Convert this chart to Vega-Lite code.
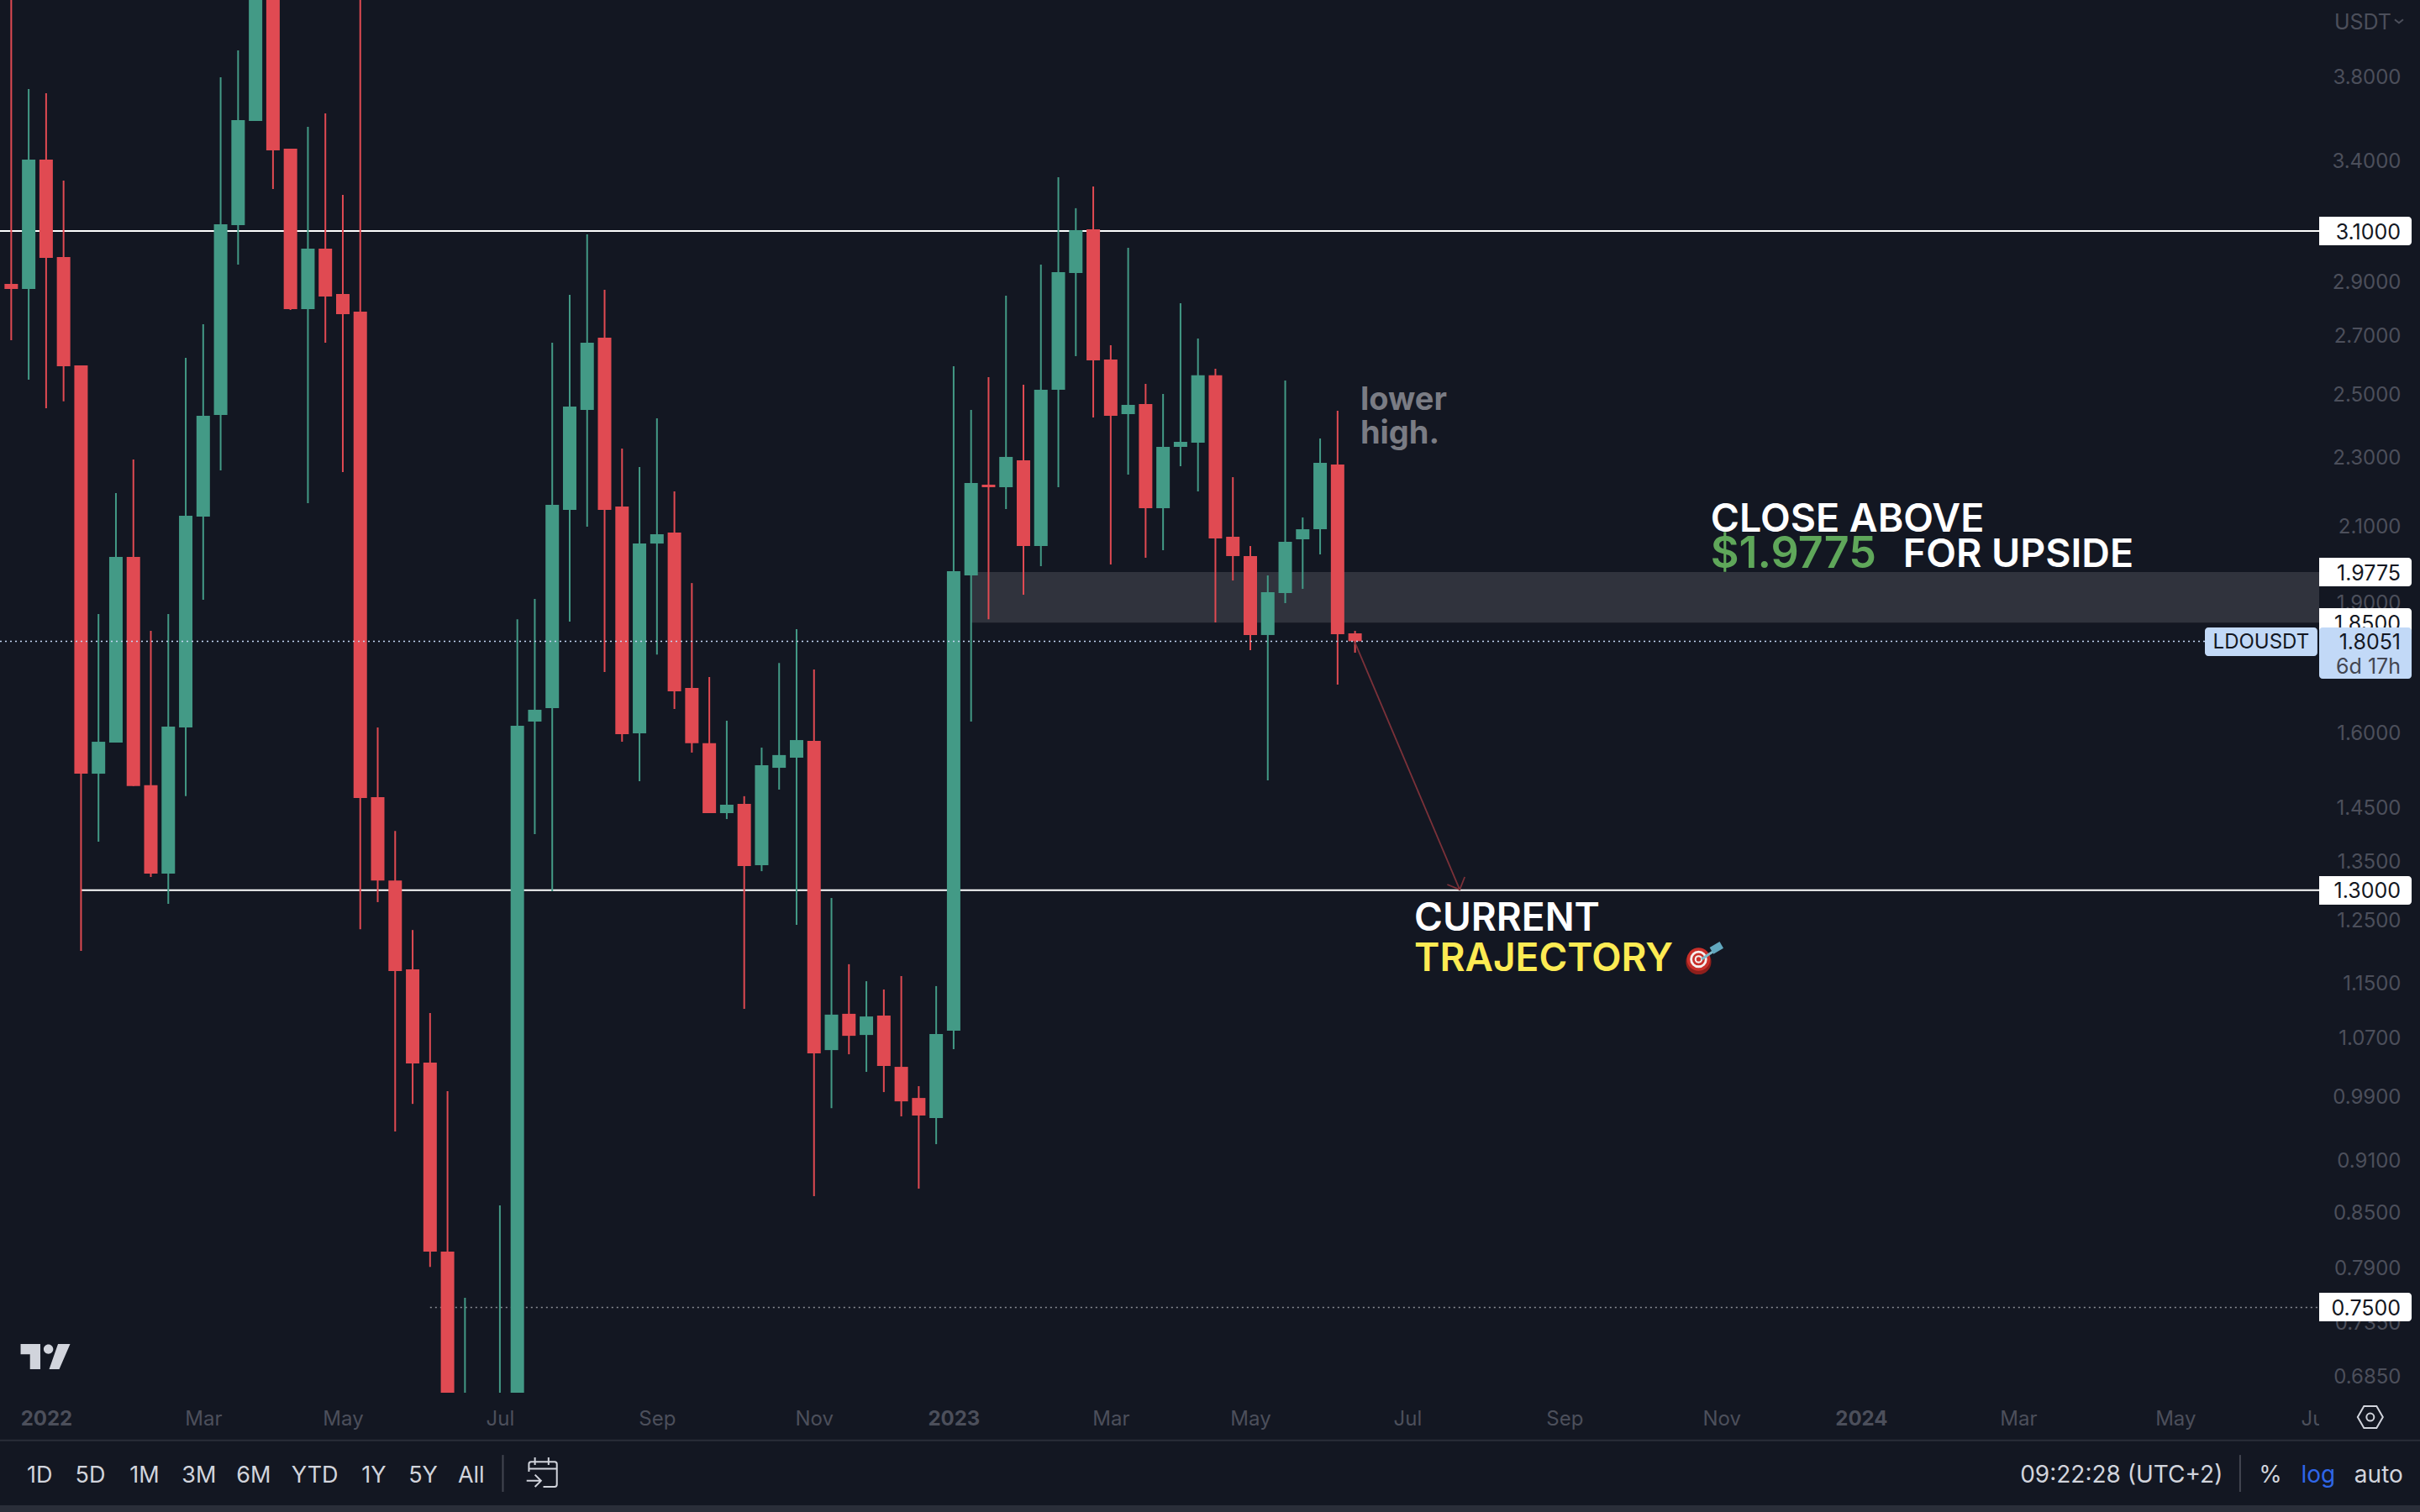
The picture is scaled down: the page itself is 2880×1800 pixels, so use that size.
{"$schema":"https://vega.github.io/schema/vega-lite/v6.json","width":2760,"height":1658,"autosize":{"type":"none"},"padding":{"left":0,"top":0,"right":120,"bottom":142},"background":"#131722","config":{"view":{"stroke":null},"font":"Inter","text":{"font":"Inter"}},
"encoding":{"x":{"field":"date","type":"temporal","title":null,"scale":{"type":"utc","padding":0,"domain":[{"year":2021,"month":12,"date":15,"hours":12,"utc":true},{"year":2024,"month":7,"date":2,"hours":17,"utc":true}]},"axis":{"orient":"bottom","domain":false,"ticks":false,"grid":false,"labelFont":"Inter","labelFontSize":24,"labelColor":"#4c4f5b","labelPadding":19,"labelOverlap":false,"labelBound":false,"labelFlush":false,"labelFontWeight":{"condition":{"test":"utcmonth(datum.value)==0","value":700},"value":400},"labelExpr":"utcmonth(datum.value)==0 ? utcFormat(datum.value,'%Y') : utcFormat(datum.value,'%b')","values":[{"year":2022,"month":1,"date":3,"utc":true},{"year":2022,"month":3,"date":7,"utc":true},{"year":2022,"month":5,"date":2,"utc":true},{"year":2022,"month":7,"date":4,"utc":true},{"year":2022,"month":9,"date":5,"utc":true},{"year":2022,"month":11,"date":7,"utc":true},{"year":2023,"month":1,"date":2,"utc":true},{"year":2023,"month":3,"date":6,"utc":true},{"year":2023,"month":5,"date":1,"utc":true},{"year":2023,"month":7,"date":3,"utc":true},{"year":2023,"month":9,"date":4,"utc":true},{"year":2023,"month":11,"date":6,"utc":true},{"year":2024,"month":1,"date":1,"utc":true},{"year":2024,"month":3,"date":4,"utc":true},{"year":2024,"month":5,"date":6,"utc":true},{"year":2024,"month":7,"date":1,"utc":true}]}},
"y":{"field":"price","type":"quantitative","title":null,"scale":{"type":"log","domain":[0.6703,4.2036],"nice":false,"zero":false},"axis":{"orient":"right","domain":false,"ticks":false,"grid":false,"labelFont":"Inter","labelFontSize":24,"labelColor":"#4c4f5b","labelAlign":"right","labelPadding":97,"labelOffset":1,"labelOverlap":false,"labelBound":false,"labelFlush":false,"format":".4f","values":[3.8,3.4,2.9,2.7,2.5,2.3,2.1,1.9,1.6,1.45,1.35,1.25,1.15,1.07,0.99,0.91,0.85,0.79,0.735,0.685]}}},
"layer":[
{"data":{"values":[{"date":"2023-01-09","date2":"2024-07-02T17:00:00Z","price":1.9775,"price2":1.85}]},"mark":{"type":"rect","color":"#30333d"},"encoding":{"x2":{"field":"date2"},"y2":{"field":"price2"}}},
{"data":{"values":[{"date":"2022-06-06","date2":"2024-07-02T17:00:00Z","price":0.75}]},"mark":{"type":"rule","color":"#8a8d95","strokeWidth":1.5,"strokeDash":[2,4]},"encoding":{"x2":{"field":"date2"}}},
{"data":{"values":[{"date":"2021-12-15T12:00:00Z","date2":"2024-07-02T17:00:00Z","price":3.1},{"date":"2022-01-17","date2":"2024-07-02T17:00:00Z","price":1.3}]},"mark":{"type":"rule","color":"#ffffff","strokeWidth":2},"encoding":{"x2":{"field":"date2"}}},
{"name":"candles","data":{"name":"candles","values":[
{"date":"2021-12-20","open":2.8913,"high":4.5,"low":2.6843,"close":2.872},
{"date":"2021-12-27","open":2.872,"high":3.7383,"low":2.5483,"close":3.406},
{"date":"2022-01-03","open":3.406,"high":3.7174,"low":2.4543,"close":2.9923},
{"date":"2022-01-10","open":2.9956,"high":3.3129,"low":2.4764,"close":2.5937},
{"date":"2022-01-17","open":2.5967,"high":2.5967,"low":1.2002,"close":1.5159},
{"date":"2022-01-24","open":1.5159,"high":1.871,"low":1.386,"close":1.5811},
{"date":"2022-01-31","open":1.5794,"high":2.1947,"low":1.5794,"close":2.0174},
{"date":"2022-02-07","open":2.0174,"high":2.2941,"low":1.4913,"close":1.4913},
{"date":"2022-02-14","open":1.4929,"high":1.83,"low":1.323,"close":1.3288},
{"date":"2022-02-21","open":1.3288,"high":1.871,"low":1.277,"close":1.6129},
{"date":"2022-02-28","open":1.6111,"high":2.6228,"low":1.4716,"close":2.1298},
{"date":"2022-03-07","open":2.1274,"high":2.7418,"low":1.9065,"close":2.4298},
{"date":"2022-03-14","open":2.4325,"high":3.7964,"low":2.261,"close":3.1275},
{"date":"2022-03-21","open":3.1242,"high":3.9333,"low":2.9657,"close":3.5879},
{"date":"2022-03-28","open":3.5839,"high":4.6,"low":3.5839,"close":4.4},
{"date":"2022-04-04","open":4.5,"high":4.7,"low":3.2767,"close":3.4481},
{"date":"2022-04-11","open":3.4554,"high":3.4554,"low":2.7936,"close":2.7968},
{"date":"2022-04-18","open":2.7968,"high":3.5564,"low":2.1655,"close":3.0286},
{"date":"2022-04-25","open":3.0286,"high":3.62,"low":2.6753,"close":2.8437},
{"date":"2022-05-02","open":2.853,"high":3.2512,"low":2.256,"close":2.7781},
{"date":"2022-05-09","open":2.7874,"high":4.6,"low":1.235,"close":1.468},
{"date":"2022-05-16","open":1.4696,"high":1.6111,"low":1.2798,"close":1.3168},
{"date":"2022-05-23","open":1.3168,"high":1.4057,"low":0.9459,"close":1.1687},
{"date":"2022-05-30","open":1.1713,"high":1.2336,"low":0.9809,"close":1.0345},
{"date":"2022-06-06","open":1.0357,"high":1.1058,"low":0.7912,"close":0.8073},
{"date":"2022-06-13","open":0.8073,"high":0.9975,"low":0.58,"close":0.62},
{"date":"2022-06-20","open":0.6,"high":0.7596,"low":0.55,"close":0.63},
{"date":"2022-06-27","open":0.6,"high":0.65,"low":0.56,"close":0.62},
{"date":"2022-07-04","open":0.62,"high":0.858,"low":0.58,"close":0.66},
{"date":"2022-07-11","open":0.65,"high":1.8583,"low":0.6,"close":1.6147},
{"date":"2022-07-18","open":1.6237,"high":1.9086,"low":1.4,"close":1.6492},
{"date":"2022-07-25","open":1.6527,"high":2.6753,"low":1.2983,"close":2.1606},
{"date":"2022-08-01","open":2.1462,"high":2.8499,"low":1.8524,"close":2.4597},
{"date":"2022-08-08","open":2.4487,"high":3.0867,"low":2.0995,"close":2.6753},
{"date":"2022-08-15","open":2.6934,"high":2.8688,"low":1.7333,"close":2.1462},
{"date":"2022-08-22","open":2.1558,"high":2.327,"low":1.5811,"close":1.5968},
{"date":"2022-08-29","open":1.5986,"high":2.2712,"low":1.5009,"close":2.0532},
{"date":"2022-09-05","open":2.0532,"high":2.4217,"low":1.7739,"close":2.0785},
{"date":"2022-09-12","open":2.0831,"high":2.1995,"low":1.651,"close":1.6896},
{"date":"2022-09-19","open":1.6972,"high":1.949,"low":1.5587,"close":1.5779},
{"date":"2022-09-26","open":1.5779,"high":1.7219,"low":1.4391,"close":1.4391},
{"date":"2022-10-03","open":1.4391,"high":1.6255,"low":1.4279,"close":1.4552},
{"date":"2022-10-10","open":1.4568,"high":1.4716,"low":1.1118,"close":1.3421},
{"date":"2022-10-17","open":1.3436,"high":1.5689,"low":1.3331,"close":1.5328},
{"date":"2022-10-24","open":1.5277,"high":1.7541,"low":1.4844,"close":1.5536},
{"date":"2022-10-31","open":1.5482,"high":1.834,"low":1.242,"close":1.5846},
{"date":"2022-11-07","open":1.5829,"high":1.7393,"low":0.8685,"close":1.0484},
{"date":"2022-11-14","open":1.053,"high":1.2868,"low":0.9754,"close":1.1034},
{"date":"2022-11-21","open":1.1046,"high":1.1792,"low":1.0472,"close":1.073},
{"date":"2022-11-28","open":1.0742,"high":1.1531,"low":1.0232,"close":1.1007},
{"date":"2022-12-05","open":1.1019,"high":1.1406,"low":0.9963,"close":1.0311},
{"date":"2022-12-12","open":1.03,"high":1.1609,"low":0.9649,"close":0.9842},
{"date":"2022-12-19","open":0.9886,"high":1.0041,"low":0.8772,"close":0.966},
{"date":"2022-12-26","open":0.9627,"high":1.1457,"low":0.9302,"close":1.0754},
{"date":"2023-01-02","open":1.0802,"high":2.5937,"low":1.0542,"close":1.9796},
{"date":"2023-01-09","open":1.9687,"high":2.4487,"low":1.6237,"close":2.2238},
{"date":"2023-01-16","open":2.2189,"high":2.5567,"low":1.8583,"close":2.2115},
{"date":"2023-01-23","open":2.2115,"high":2.8467,"low":2.1487,"close":2.3016},
{"date":"2023-01-30","open":2.2912,"high":2.5314,"low":1.9192,"close":2.0465},
{"date":"2023-02-06","open":2.0465,"high":2.9657,"low":1.9929,"close":2.5146},
{"date":"2023-02-13","open":2.5146,"high":3.3277,"low":2.2115,"close":2.9362},
{"date":"2023-02-20","open":2.933,"high":3.1946,"low":2.6286,"close":3.1037},
{"date":"2023-02-27","open":3.1071,"high":3.2874,"low":2.4244,"close":2.614},
{"date":"2023-03-06","open":2.6169,"high":2.6667,"low":1.9973,"close":2.4298},
{"date":"2023-03-13","open":2.4352,"high":3.032,"low":2.2485,"close":2.465},
{"date":"2023-03-20","open":2.4678,"high":2.5342,"low":2.0151,"close":2.1511},
{"date":"2023-03-27","open":2.1511,"high":2.5008,"low":2.0352,"close":2.3322},
{"date":"2023-04-03","open":2.3322,"high":2.8185,"low":2.2736,"close":2.3478},
{"date":"2023-04-10","open":2.3452,"high":2.6904,"low":2.1993,"close":2.5628},
{"date":"2023-04-17","open":2.5628,"high":2.5853,"low":1.8504,"close":2.067},
{"date":"2023-04-24","open":2.0716,"high":2.241,"low":1.9556,"close":2.0195},
{"date":"2023-05-01","open":2.0195,"high":2.0465,"low":1.784,"close":1.82},
{"date":"2023-05-08","open":1.82,"high":1.9687,"low":1.5026,"close":1.9256},
{"date":"2023-05-15","open":1.9234,"high":2.5454,"low":1.8981,"close":2.0579},
{"date":"2023-05-22","open":2.0647,"high":2.125,"low":1.9341,"close":2.0923},
{"date":"2023-05-29","open":2.0923,"high":2.3582,"low":2.024,"close":2.2837},
{"date":"2023-06-05","open":2.2786,"high":2.446,"low":1.7047,"close":1.8219},
{"date":"2023-06-12","open":1.824,"high":1.83,"low":1.778,"close":1.8051}
]},"mark":{"type":"rule","strokeWidth":2,"clip":true},"encoding":{"y":{"field":"low","type":"quantitative"},"y2":{"field":"high"},"color":{"condition":{"test":"datum.close>=datum.open","value":"#439a86"},"value":"#e04a52"}}},
{"data":{"name":"candles"},"mark":{"type":"bar","size":16,"orient":"vertical","clip":true},"encoding":{"y":{"field":"open","type":"quantitative"},"y2":{"field":"close"},"color":{"condition":{"test":"datum.close>=datum.open","value":"#439a86"},"value":"#e04a52"}}},
{"data":{"values":[{"date":"2021-12-15T12:00:00Z","date2":"2024-05-17T21:00:00Z","price":1.8051}]},"mark":{"type":"rule","color":"#c5d8f5","strokeWidth":1.5,"strokeDash":[2,4]},"encoding":{"x2":{"field":"date2"}}},
{"data":{"values":[{"part":"shaft","date":"2023-06-12","price":1.8018},{"part":"shaft","date":"2023-07-24","price":1.3011},{"part":"head","date":"2023-07-19","price":1.3098},{"part":"head","date":"2023-07-24","price":1.3011},{"part":"head","date":"2023-07-26","price":1.323}]},"mark":{"type":"line","color":"#7b3139","strokeWidth":1.8},"encoding":{"detail":{"field":"part"}}},
{"data":{"values":[{"date":"2023-06-14T19:00:00Z","price":2.4487,"label":"lower"},{"date":"2023-06-14T19:00:00Z","price":2.3426,"label":"high."}]},"mark":{"type":"text","align":"left","baseline":"alphabetic","dx":-2,"font":"Inter","fontSize":38,"fontWeight":700,"color":"#7a7c84"},"encoding":{"text":{"field":"label"}}},
{"data":{"values":[{"date":"2023-11-02T07:00:00Z","price":2.0861,"label":"CLOSE ABOVE"},{"date":"2024-01-18T12:00:00Z","price":1.9907,"label":"FOR UPSIDE"}]},"mark":{"type":"text","align":"left","baseline":"alphabetic","dx":-2,"font":"Inter","fontSize":46.5,"fontWeight":600,"color":"#ffffff"},"encoding":{"text":{"field":"label"}}},
{"data":{"values":[{"date":"2023-07-06T10:00:00Z","price":1.2324,"label":"CURRENT"}]},"mark":{"type":"text","align":"left","baseline":"alphabetic","dx":-2,"font":"Inter","fontSize":46,"fontWeight":600,"color":"#ffffff"},"encoding":{"text":{"field":"label"}}},
{"data":{"values":[{"date":"2023-11-02T07:00:00Z","price":1.9907,"label":"$1.9775"}]},"mark":{"type":"text","align":"left","baseline":"alphabetic","dx":-2,"dy":1,"font":"Inter","fontSize":52,"fontWeight":600,"color":"#5fa75a"},"encoding":{"text":{"field":"label"}}},
{"data":{"values":[{"date":"2023-07-06T10:00:00Z","price":1.1687,"label":"TRAJECTORY"}]},"mark":{"type":"text","align":"left","baseline":"alphabetic","dx":-2,"font":"Inter","fontSize":46,"fontWeight":600,"color":"#fdeb53"},"encoding":{"text":{"field":"label"}}},
{"data":{"values":[{"date":"2023-10-27T19:00:00Z","price":1.183}]},"mark":{"type":"point","shape":"circle","filled":true,"size":908,"color":"#8e1f1c","opacity":1}},
{"data":{"values":[{"date":"2023-10-27T19:00:00Z","price":1.187}]},"mark":{"type":"point","shape":"circle","filled":true,"size":760,"color":"#c9302a","opacity":1}},
{"data":{"values":[{"date":"2023-10-27T19:00:00Z","price":1.187}]},"mark":{"type":"point","shape":"circle","filled":true,"size":420,"color":"#f5f0ee","opacity":1}},
{"data":{"values":[{"date":"2023-10-27T19:00:00Z","price":1.187}]},"mark":{"type":"point","shape":"circle","filled":true,"size":220,"color":"#c9302a","opacity":1}},
{"data":{"values":[{"date":"2023-10-27T19:00:00Z","price":1.187}]},"mark":{"type":"point","shape":"circle","filled":true,"size":90,"color":"#f5f0ee","opacity":1}},
{"data":{"values":[{"date":"2023-10-27T19:00:00Z","price":1.187}]},"mark":{"type":"point","shape":"circle","filled":true,"size":28,"color":"#c9302a","opacity":1}},
{"data":{"values":[{"date":"2023-10-29","price":1.187},{"date":"2023-11-03","price":1.2002}]},"mark":{"type":"line","color":"#7db9c9","strokeWidth":3}},
{"data":{"values":[{"date":"2023-11-02","price":1.2002},{"date":"2023-11-06","price":1.2095}]},"mark":{"type":"line","color":"#62a8bf","strokeWidth":9}},
{"data":{"values":[{"date":"2024-07-02T17:00:00Z","date2":"2024-08-20","price":0.6703,"price2":0.6306}]},"mark":{"type":"rect","color":"#131722"},"encoding":{"x2":{"field":"date2"},"y2":{"field":"price2"}}},
{"data":{"values":[{"date":"2024-07-02T17:00:00Z","date2":"2024-08-08T19:00:00Z","price":3.159,"price2":3.0423},{"date":"2024-07-02T17:00:00Z","date2":"2024-08-08T19:00:00Z","price":2.0151,"price2":1.9406},{"date":"2024-07-02T17:00:00Z","date2":"2024-08-08T19:00:00Z","price":1.8855,"price2":1.8158},{"date":"2024-07-02T17:00:00Z","date2":"2024-08-08T19:00:00Z","price":1.3244,"price2":1.2755},{"date":"2024-07-02T17:00:00Z","date2":"2024-08-08T19:00:00Z","price":0.7647,"price2":0.7365}]},"mark":{"type":"rect","color":"#ffffff","cornerRadiusTopRight":4,"cornerRadiusBottomRight":4},"encoding":{"x2":{"field":"date2"},"y2":{"field":"price2"}}},
{"data":{"values":[{"date":"2024-08-04T10:00:00Z","price":3.1,"label":"3.1000"},{"date":"2024-08-04T10:00:00Z","price":1.9775,"label":"1.9775"},{"date":"2024-08-04T10:00:00Z","price":1.85,"label":"1.8500"},{"date":"2024-08-04T10:00:00Z","price":1.3,"label":"1.3000"},{"date":"2024-08-04T10:00:00Z","price":0.75,"label":"0.7500"}]},"mark":{"type":"text","align":"right","baseline":"middle","dy":1.5,"font":"Inter","fontSize":25,"color":"#131722"},"encoding":{"text":{"field":"label"}}},
{"data":{"values":[{"date":"2024-07-02T17:00:00Z","date2":"2024-08-08T19:00:00Z","price":1.8381,"price2":1.718},{"date":"2024-05-17T21:00:00Z","date2":"2024-07-02T00:00:00Z","price":1.8381,"price2":1.7702}]},"mark":{"type":"rect","color":"#c2d9f7","cornerRadius":4},"encoding":{"x2":{"field":"date2"},"y2":{"field":"price2"}}},
{"data":{"values":[{"date":"2024-08-04T10:00:00Z","price":1.8051,"label":"1.8051"}]},"mark":{"type":"text","align":"right","baseline":"middle","dy":1.5,"font":"Inter","fontSize":25,"color":"#131722"},"encoding":{"text":{"field":"label"}}},
{"data":{"values":[{"date":"2024-08-04T10:00:00Z","price":1.7487,"label":"6d 17h"}]},"mark":{"type":"text","align":"right","baseline":"middle","dy":1.5,"font":"Inter","fontSize":25,"color":"#434651"},"encoding":{"text":{"field":"label"}}},
{"data":{"values":[{"date":"2024-06-09T10:00:00Z","price":1.8051,"label":"LDOUSDT"}]},"mark":{"type":"text","align":"center","baseline":"middle","dy":1.5,"font":"Inter","fontSize":24,"color":"#131722"},"encoding":{"text":{"field":"label"}}},
{"data":{"values":[{"date":"2024-07-20T05:00:00Z","price":4.0798,"label":"USDT"}]},"mark":{"type":"text","align":"center","baseline":"middle","font":"Inter","fontSize":25,"color":"#4c4f5b"},"encoding":{"text":{"field":"label"}}},
{"data":{"values":[{"date":"2024-08-03T17:00:00Z","price":4.088}]},"mark":{"type":"point","shape":"M-1,-0.4L0,0.4L1,-0.4","size":100,"filled":false,"color":"#4c4f5b","strokeWidth":2,"opacity":1}},
{"data":{"values":[{"date":"2022-01-02T17:00:00Z","price":0.7029}]},"mark":{"type":"point","shape":"M-0.983,-0.5L-0.2,-0.5L-0.2,0.5L-0.61,0.5L-0.61,-0.093L-0.983,-0.093Z M-0.07,-0.3A0.19,0.19,0,1,0,0.31,-0.3A0.19,0.19,0,1,0,-0.07,-0.3Z M0.5,-0.5L0.983,-0.5L0.55,0.5L0.15,0.5Z","size":3600,"filled":true,"color":"#d1d4dc","opacity":1}},
{"data":{"values":[{"date":"2024-07-23T05:00:00Z","price":0.6491}]},"mark":{"type":"point","shape":"M-1,0L-0.5,-0.87L0.5,-0.87L1,0L0.5,0.87L-0.5,0.87Z M-0.3,0A0.3,0.3,0,1,0,0.3,0A0.3,0.3,0,1,0,-0.3,0Z","size":900,"filled":false,"color":"#d1d4dc","strokeWidth":2,"opacity":1}},
{"data":{"values":[{"date":"2022-07-20T19:00:00Z","price":0.604}]},"mark":{"type":"point","shape":"M-0.85,0V-0.5Q-0.85,-0.65,-0.7,-0.65H0.85Q1,-0.65,1,-0.5V0.85Q1,1,0.85,1H0.1 M-0.85,-0.2H1 M-0.45,-0.95V-0.45 M0.45,-0.95V-0.45 M-1,0.6H-0.1 M-0.45,0.2L-0.05,0.6L-0.45,1","size":1296,"filled":false,"color":"#d1d4dc","strokeWidth":2,"opacity":1}},
{"data":{"values":[{"date":"2021-12-01","date2":"2024-08-20","price":0.6295}]},"mark":{"type":"rule","color":"#2a2e39","strokeWidth":2},"encoding":{"x2":{"field":"date2"}}},
{"data":{"values":[{"date":"2021-12-01","date2":"2024-08-20","price":0.5778,"price2":0.5664}]},"mark":{"type":"rect","color":"#2a2e39"},"encoding":{"x2":{"field":"date2"},"y2":{"field":"price2"}}},
{"data":{"values":[{"date":"2022-07-05T05:00:00Z","price":0.6175,"price2":0.5882},{"date":"2024-06-01","price":0.6175,"price2":0.5882}]},"mark":{"type":"rule","color":"#434651","strokeWidth":2},"encoding":{"y2":{"field":"price2"}}},
{"data":{"values":[{"date":"2021-12-31T10:00:00Z","price":0.6007,"label":"1D"},{"date":"2022-01-20T17:00:00Z","price":0.6007,"label":"5D"},{"date":"2022-02-11T10:00:00Z","price":0.6007,"label":"1M"},{"date":"2022-03-05T07:00:00Z","price":0.6007,"label":"3M"},{"date":"2022-03-27T05:00:00Z","price":0.6007,"label":"6M"},{"date":"2022-04-20T19:00:00Z","price":0.6007,"label":"YTD"},{"date":"2022-05-14T10:00:00Z","price":0.6007,"label":"1Y"},{"date":"2022-06-03T05:00:00Z","price":0.6007,"label":"5Y"},{"date":"2022-06-22T12:00:00Z","price":0.6007,"label":"All"}]},"mark":{"type":"text","align":"center","baseline":"middle","font":"Inter","fontSize":27,"color":"#d1d4dc"},"encoding":{"text":{"field":"label"}}},
{"data":{"values":[{"date":"2024-04-14T10:00:00Z","price":0.6007,"label":"09:22:28 (UTC+2)"},{"date":"2024-06-13T03:00:00Z","price":0.6007,"label":"%"},{"date":"2024-07-26T14:00:00Z","price":0.6007,"label":"auto"}]},"mark":{"type":"text","align":"center","baseline":"middle","font":"Inter","fontSize":28,"color":"#d1d4dc"},"encoding":{"text":{"field":"label"}}},
{"data":{"values":[{"date":"2024-07-02T07:00:00Z","price":0.6007,"label":"log"}]},"mark":{"type":"text","align":"center","baseline":"middle","font":"Inter","fontSize":28,"color":"#2f66e8"},"encoding":{"text":{"field":"label"}}}
]}
